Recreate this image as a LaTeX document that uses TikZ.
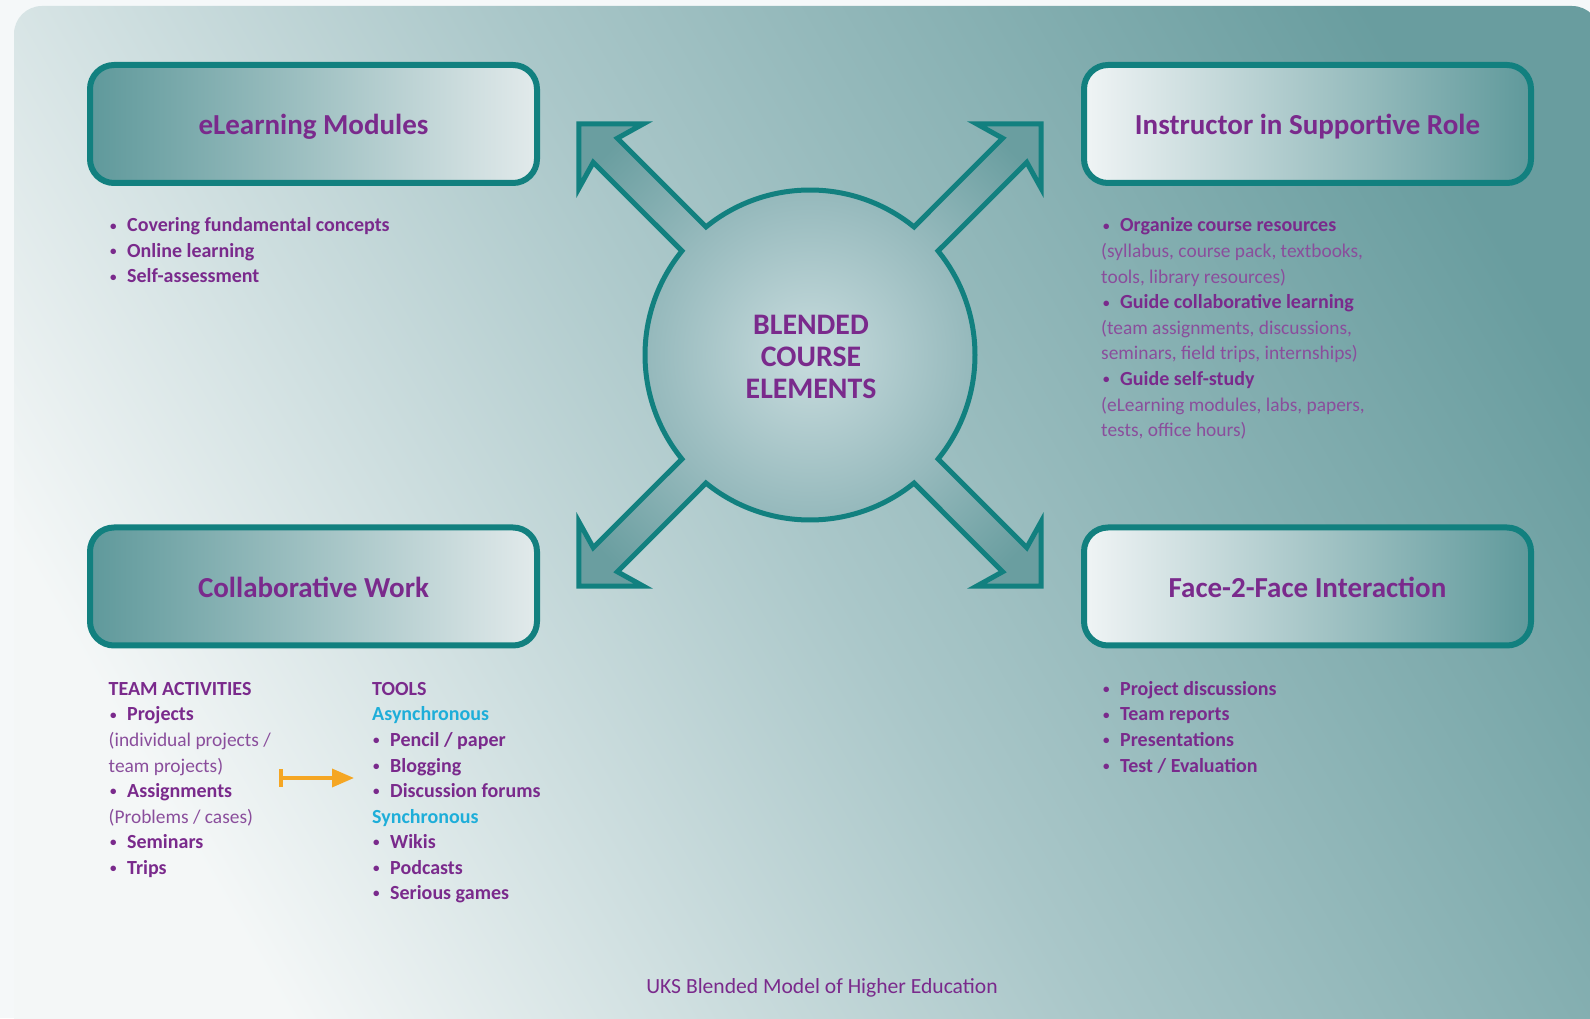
\documentclass[tikz,border=0pt]{standalone}
\usepackage{fontspec}
\setmainfont{Carlito}
\usetikzlibrary{arrows.meta}
\definecolor{pagebg}{HTML}{F5F8F9}
\definecolor{bgA}{HTML}{F4F7F7}
\definecolor{bgB}{HTML}{AAC7C9}
\definecolor{bgC}{HTML}{699D9F}
\definecolor{hubA}{HTML}{C8DCDE}
\definecolor{hubB}{HTML}{97BABD}
\definecolor{hubC}{HTML}{6A9EA0}
\definecolor{tealline}{HTML}{12807F}
\definecolor{boxdark}{HTML}{5F999B}
\definecolor{boxlight}{HTML}{E2EAEB}
\definecolor{boxlightR}{HTML}{F0F4F5}
\definecolor{purp}{HTML}{7A2A8C}
\definecolor{purplight}{HTML}{8A4E9C}
\definecolor{cyantext}{HTML}{1EAED9}
\definecolor{orangeline}{HTML}{F5A623}
\pgfdeclarehorizontalshading{bgshade}{100bp}{color(0bp)=(bgA); color(25bp)=(bgA); color(50bp)=(bgB); color(77bp)=(bgC); color(100bp)=(bgC)}
\pgfdeclareradialshading{hubshade}{\pgfpoint{0bp}{0bp}}{color(0bp)=(hubA); color(17bp)=(hubB); color(31bp)=(hubC); color(50bp)=(hubC)}
\newcommand\itembul{\makebox[17pt][l]{\raisebox{1.6pt}{\fontsize{13}{13}\selectfont\textbullet}}}
\tikzset{
  box/.style={draw=tealline, line width=6pt, rounded corners=24pt, minimum width=447pt, minimum height=118pt, inner sep=0pt, text height=24pt, text depth=2pt, font=\fontsize{29}{34}\selectfont\bfseries, text=purp},
  boxL/.style={box, left color=boxdark, right color=boxlight},
  boxR/.style={box, left color=boxlightR, right color=boxdark},
  itm/.style={anchor=base west, inner sep=0pt, font=\fontsize{20}{24}\selectfont\bfseries, text=purp},
  paren/.style={anchor=base west, inner sep=0pt, font=\fontsize{19.4}{24}\selectfont, text=purplight},
  subhead/.style={anchor=base west, inner sep=0pt, font=\fontsize{20}{24}\selectfont\bfseries, text=cyantext},
  hubtext/.style={align=center, inner sep=0pt, font=\fontsize{29.8}{32}\selectfont\bfseries, text=purp},
  capt/.style={anchor=base, inner sep=0pt, font=\fontsize{21.6}{24}\selectfont, text=purp}
}
\begin{document}
\begin{tikzpicture}[x=1pt,y=1pt]
\path[use as bounding box] (0,0) rectangle (1590,1018);
\clip (0,0) rectangle (1590,1018);
\fill[pagebg] (0,0) rectangle (1590,1018);
\shade[shading=bgshade, shading angle=30, rounded corners=28pt] (14,-40) rectangle (1600,1012);

% central hub with four arrows
\begin{scope}[shift={(810,663)}]
\shadedraw[shading=hubshade, draw=tealline, line width=5pt, line join=miter]
  (39.09:165)
  \foreach \a in {45,135,225,315}{
    -- ({\a-3.37}:290) -- ({\a-9.17}:285) -- (\a:327) -- ({\a+9.17}:285) -- ({\a+3.37}:290) -- ({\a+5.91}:165)
    arc[start angle={\a+5.91}, end angle={\a+84.09}, radius=165pt]
  } -- cycle;
\end{scope}
\node[hubtext] (hub) at (811,661) {BLENDED\\COURSE\\ELEMENTS};

% boxes
\node[boxL] (elm) at (313.5,894) {eLearning Modules};
\node[boxR] (isr) at (1307.5,894) {Instructor in Supportive Role};
\node[boxL] (cw) at (313.5,431.5) {Collaborative Work};
\node[boxR] (f2f) at (1307.5,431.5) {Face-2-Face Interaction};

% eLearning list
\node[itm] (e1) at (110,786) {\itembul Covering fundamental concepts};
\node[itm] (e2) at (110,760.5) {\itembul Online learning};
\node[itm] (e3) at (110,735) {\itembul Self-assessment};

% Instructor list
\node[itm] (i1) at (1103,786) {\itembul Organize course resources};
\node[paren] (i2) at (1101,760.4) {(syllabus, course pack, textbooks,};
\node[paren] (i3) at (1101,734.8) {tools, library resources)};
\node[itm] (i4) at (1103,709.2) {\itembul Guide collaborative learning};
\node[paren] (i5) at (1101,683.6) {(team assignments, discussions,};
\node[paren] (i6) at (1101,658) {seminars, field trips, internships)};
\node[itm] (i7) at (1103,632.4) {\itembul Guide self-study};
\node[paren] (i8) at (1101,606.8) {(eLearning modules, labs, papers,};
\node[paren] (i9) at (1101,581.2) {tests, office hours)};

% Face-2-Face list
\node[itm] (f1) at (1103,322.5) {\itembul Project discussions};
\node[itm] (f2) at (1103,297) {\itembul Team reports};
\node[itm] (f3) at (1103,271.5) {\itembul Presentations};
\node[itm] (f4) at (1103,246) {\itembul Test / Evaluation};

% Team activities
\node[itm] (t0) at (108.5,322.5) {TEAM ACTIVITIES};
\node[itm] (t1) at (110,297) {\itembul Projects};
\node[paren] (t2) at (108.5,271.5) {(individual projects /};
\node[paren] (t3) at (108.5,246) {team projects)};
\node[itm] (t4) at (110,220.5) {\itembul Assignments};
\node[paren] (t5) at (108.5,195) {(Problems / cases)};
\node[itm] (t6) at (110,169.5) {\itembul Seminars};
\node[itm] (t7) at (110,144) {\itembul Trips};

% Tools
\node[itm] (o0) at (372,322.5) {TOOLS};
\node[subhead] (o1) at (372,297) {Asynchronous};
\node[itm] (o2) at (373,271.5) {\itembul Pencil / paper};
\node[itm] (o3) at (373,246) {\itembul Blogging};
\node[itm] (o4) at (373,220.5) {\itembul Discussion forums};
\node[subhead] (o5) at (372,195) {Synchronous};
\node[itm] (o6) at (373,169.5) {\itembul Wikis};
\node[itm] (o7) at (373,144) {\itembul Podcasts};
\node[itm] (o8) at (373,118.5) {\itembul Serious games};

% orange arrow
\coordinate (oa) at (279,240);
\coordinate (ob) at (354,240);
\draw[orangeline, line width=3.5pt, {Bar[width=17pt]}-{Triangle[length=22pt,width=18pt]}] (oa) -- (ob);

% caption
\node[capt] (cap) at (822,25) {UKS Blended Model of Higher Education};
\end{tikzpicture}
\end{document}
